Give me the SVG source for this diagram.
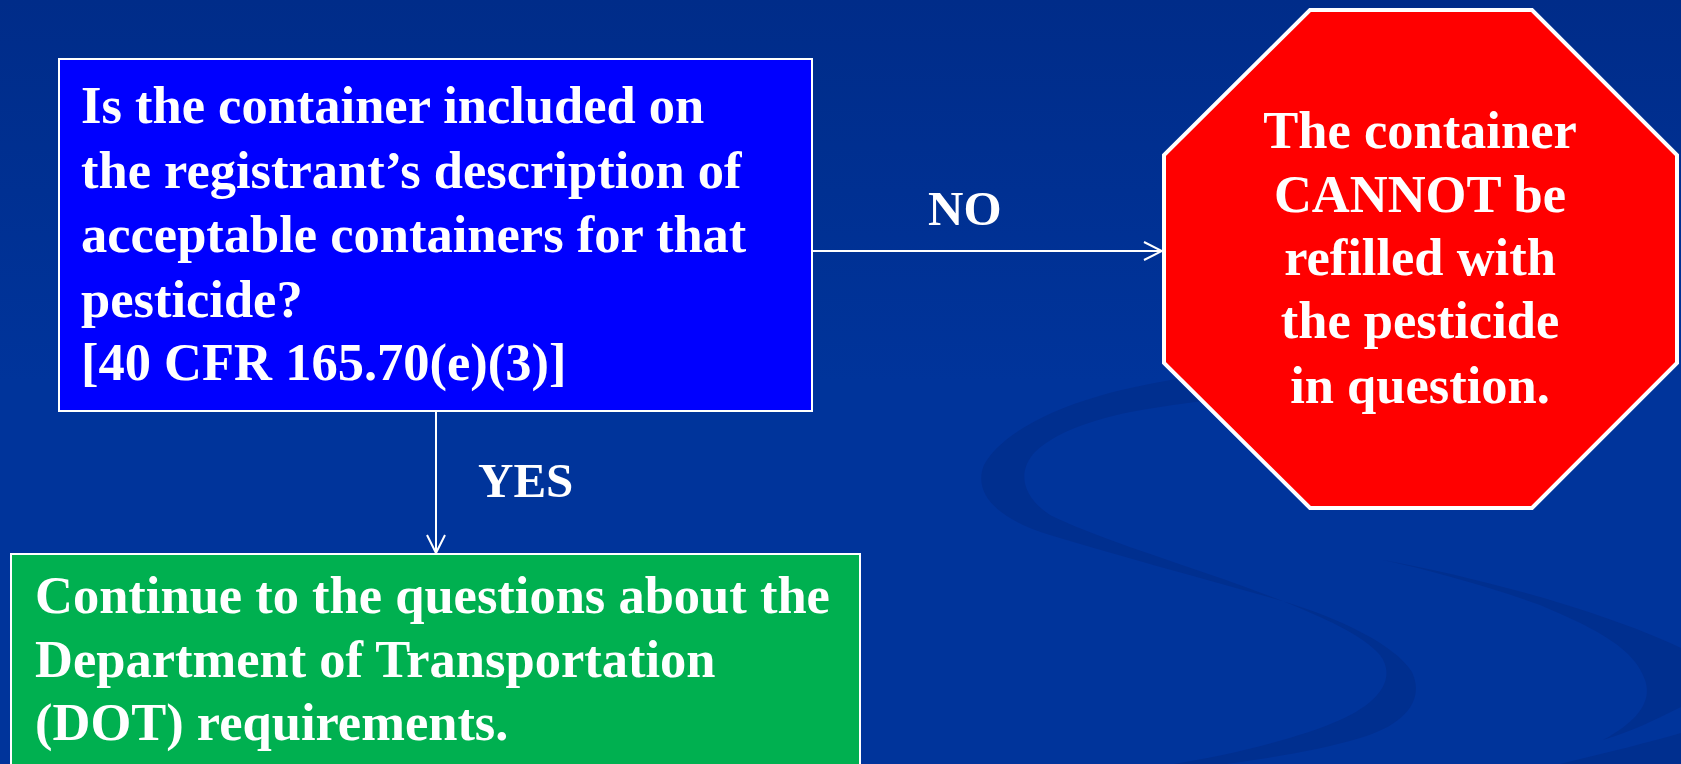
<svg xmlns="http://www.w3.org/2000/svg" width="1681" height="764" viewBox="0 0 1681 764">
  <defs>
    <linearGradient id="bg" x1="0" y1="0" x2="0" y2="1">
      <stop offset="0" stop-color="#002C89"/>
      <stop offset="0.5" stop-color="#00349B"/>
      <stop offset="1" stop-color="#00349B"/>
    </linearGradient>
    <marker id="arrow" viewBox="0 0 20 20" refX="19" refY="10" markerWidth="20" markerHeight="20" markerUnits="userSpaceOnUse" orient="auto">
      <path d="M1,1 L19,10 L1,19" fill="none" stroke="#FFFFFF" stroke-width="2"/>
    </marker>
    <style>
      .t { font-family: "Liberation Serif", "Times New Roman", serif; font-weight: bold; font-size: 52.5px; fill: #FFFFFF; }
      .lbl { font-family: "Liberation Serif", "Times New Roman", serif; font-weight: bold; font-size: 49px; fill: #FFFFFF; }
      .swoosh { fill: #002F8F; }
      .conn { stroke: #FFFFFF; stroke-width: 2; fill: none; }
    </style>
  </defs>

  <rect x="0" y="0" width="1681" height="764" fill="url(#bg)"/>

  <g id="background-swooshes">
    <path class="swoosh" d="M1240,370 C1200,374 1130,386 1096,397 C1050,410 1000,435 984,465 C972,495 1000,520 1050,535 C1120,556 1200,578 1279,600 C1340,618 1395,645 1412,672 C1425,700 1405,725 1360,738 C1320,750 1270,758 1226,764 L1174,764 C1230,755 1300,738 1340,720 C1385,700 1395,675 1380,655 C1360,632 1310,610 1226,580 C1160,557 1090,535 1050,515 C1020,495 1018,470 1035,452 C1060,428 1110,414 1160,407 C1190,402 1220,399 1240,398 Z"/>
    <path class="swoosh" d="M1383,560 C1480,578 1600,610 1681,648 L1681,707 C1655,720 1630,732 1603,740 C1640,720 1652,700 1645,680 C1635,650 1600,630 1540,605 C1490,587 1430,570 1383,560 Z"/>
    <path class="swoosh" d="M1560,764 C1610,752 1650,742 1681,733 L1681,764 Z"/>
  </g>

  <g id="connectors">
    <line class="conn" x1="812" y1="251" x2="1162" y2="251" marker-end="url(#arrow)"/>
    <line class="conn" x1="436" y1="411" x2="436" y2="553" marker-end="url(#arrow)"/>
    <text class="lbl" x="928" y="225">NO</text>
    <text class="lbl" x="478" y="497">YES</text>
  </g>

  <g id="question">
    <rect x="59" y="59" width="753" height="352" fill="#0000FF" stroke="#FFFFFF" stroke-width="2"/>
    <text class="t" x="81" y="123">Is the container included on</text>
    <text class="t" x="81" y="188">the registrant’s description of</text>
    <text class="t" x="81" y="252">acceptable containers for that</text>
    <text class="t" x="81" y="317">pesticide?</text>
    <text class="t" x="81" y="380">[40 CFR 165.70(e)(3)]</text>
  </g>

  <g id="stop">
    <polygon points="1310,10 1532,10 1677,155 1677,363 1532,508 1310,508 1164,363 1164,155" fill="#FF0000" stroke="#FFFFFF" stroke-width="4"/>
    <text class="t" x="1420" y="148" text-anchor="middle">The container</text>
    <text class="t" x="1420" y="212" text-anchor="middle">CANNOT be</text>
    <text class="t" x="1420" y="275" text-anchor="middle">refilled with</text>
    <text class="t" x="1420" y="338" text-anchor="middle">the pesticide</text>
    <text class="t" x="1420" y="403" text-anchor="middle">in question.</text>
  </g>

  <g id="continue">
    <rect x="11" y="554" width="849" height="230" fill="#00B050" stroke="#FFFFFF" stroke-width="2"/>
    <text class="t" x="35" y="613">Continue to the questions about the</text>
    <text class="t" x="35" y="677">Department of Transportation</text>
    <text class="t" x="35" y="740">(DOT) requirements.</text>
  </g>
</svg>
